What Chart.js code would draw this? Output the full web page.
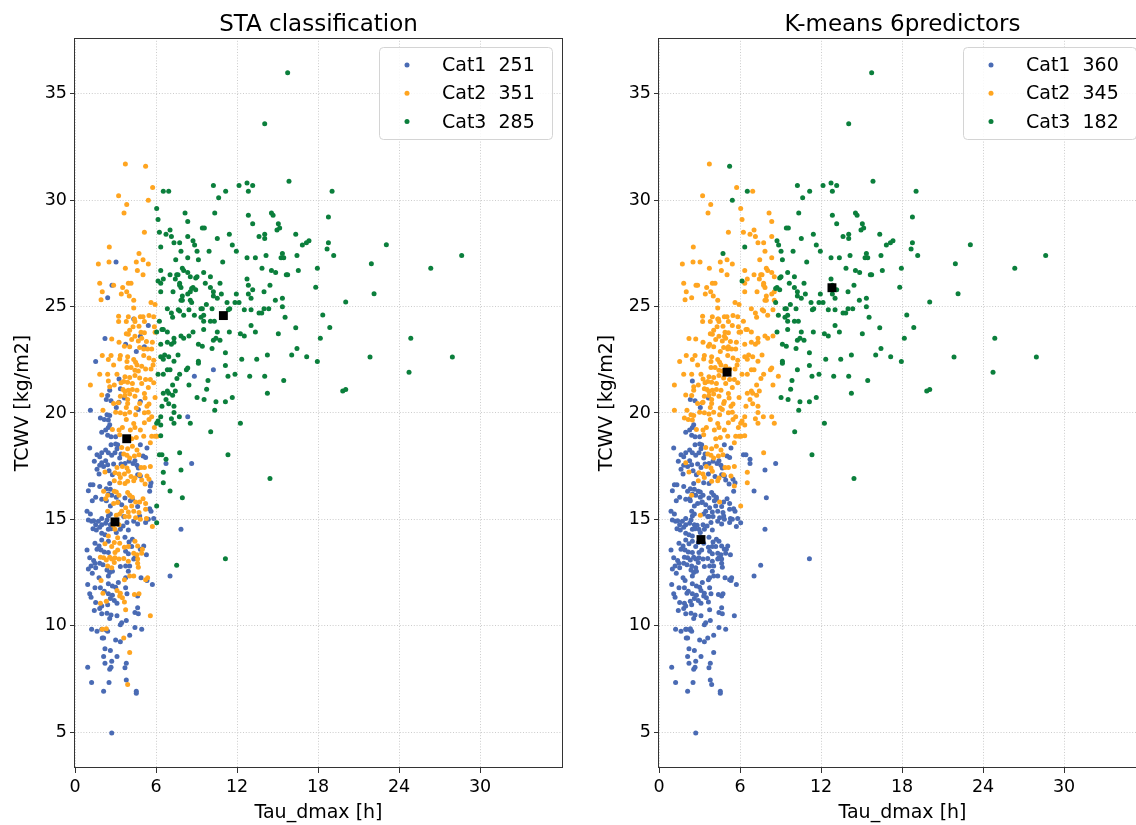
<!DOCTYPE html>
<html>
<head>
<meta charset="utf-8">
<script src="https://cdn.jsdelivr.net/npm/chart.js@4.4.1/dist/chart.umd.min.js"></script>
<style>
  html, body { margin: 0; padding: 0; background: #fff; overflow: hidden; }
  #wrap { position: relative; width: 1136px; height: 825px; overflow: hidden; background: #fff; }
  canvas { position: absolute; top: 0; }
</style>
</head>
<body>
<div id="wrap">
  <canvas id="sta" width="600" height="825" style="left:0px"></canvas>
  <canvas id="km" width="600" height="825" style="left:584px"></canvas>
</div>
<script>
// Events (Tau_dmax [h], TCWV [kg/m2]) grouped by STA class (s) and K-means class (k)
const s1k1 = [
  [2.32,20.64],[2.67,20.57],[3.66,20.70],[3.06,20.26],[2.57,19.45],[2.47,19.32],[2.27,19.20],[1.98,19.10],
  [2.42,18.95],[2.67,18.88],[3.01,18.88],[2.67,18.51],[3.01,18.54],[3.16,18.51],[3.11,18.32],[2.27,18.26],
  [1.98,18.13],[1.63,18.04],[1.83,17.94],[1.09,18.35],[2.47,18.13],[2.72,18.01],[2.96,18.13],[3.41,18.07],
  [3.31,17.88],[4.84,18.51],[5.33,18.35],[5.04,17.98],[5.23,17.91],
  [1.43,17.73],[2.27,17.76],[1.83,17.54],[2.12,17.48],[2.42,17.57],[2.86,17.60],[3.41,17.60],[3.70,17.63],
  [4.00,17.73],[4.44,17.76],[4.30,17.63],[4.59,17.54],[4.69,17.41],[1.63,17.35],[1.78,17.13],[2.52,17.29],
  [2.77,17.10],[4.64,17.10],[4.84,17.04],[5.63,16.72],[5.53,16.32],[1.14,16.63],[0.99,16.35],[1.33,16.63],
  [1.83,16.54],[2.57,16.69],[2.32,16.44],[2.62,16.41],[2.47,16.19],[2.72,16.13],[1.53,16.04],[1.28,15.88],
  [1.98,15.94],[3.06,16.04],[3.21,15.82],[3.46,15.69],[2.62,15.63],[2.32,15.88],[3.70,16.00],[4.10,15.88],
  [4.25,15.94],[4.64,15.60],[5.53,15.50],[5.63,15.38],[4.79,15.16],
  [0.89,15.38],[1.14,15.25],[0.99,14.97],[1.23,14.91],[1.38,14.94],[1.53,14.75],[1.73,14.91],[1.98,15.04],
  [1.98,14.75],[2.27,14.82],[2.47,15.16],[2.62,15.25],[2.37,14.97],[2.62,14.75],[3.61,15.13],[3.85,14.85],
  [4.35,14.91],[4.64,14.78],[5.43,15.00],[5.23,14.85],[5.83,15.04],[1.33,14.56],[1.58,14.50],[1.83,14.63],
  [1.98,14.35],[2.22,14.28],[2.47,14.53],[2.67,14.56],[3.06,14.38],[3.36,14.53],[3.56,14.69],[3.95,14.50],
  [0.89,13.56],[1.48,13.88],[1.78,13.75],[1.98,14.03],[2.47,13.97],[1.63,13.60],[1.93,13.56],[2.17,13.47],
  [2.47,13.44],[3.70,14.16],[4.00,13.94],[4.25,14.06],[3.75,13.50],[4.20,13.72],[3.95,13.38],[4.35,13.13],
  [4.44,13.19],[5.09,13.75],[4.84,13.60],[5.29,13.34],[1.09,13.19],[1.38,13.06],[1.19,12.81],[1.53,12.72],
  [1.83,12.94],[2.07,12.87],[2.37,12.62],[2.57,12.50],[2.47,12.34],[2.77,12.56],[3.36,12.78],[3.75,12.81],
  [3.95,12.56],[1.48,12.94],[0.99,12.66],[4.05,12.81],
  [3.75,12.25],[3.21,12.03],[3.01,11.81],[2.77,11.87],[2.47,11.97],[1.88,11.78],[2.17,11.62],[2.47,11.50],
  [2.77,11.43],[2.62,11.28],[2.42,10.99],[1.98,10.93],[2.91,11.18],[3.11,11.06],[1.09,11.50],[1.19,11.34],
  [0.94,11.94],[1.48,11.78],[1.53,11.09],[1.83,10.81],[1.98,10.56],[2.37,10.59],[2.67,10.50],[3.11,10.47],
  [2.57,10.34],[4.64,10.84],[4.44,10.62],[4.69,10.56],[5.73,11.94],[5.33,12.12],[4.89,12.25],[3.85,11.50],
  [3.75,11.78],[4.64,11.40],[1.78,12.25],[1.28,12.47],
  [1.43,10.71],[3.36,10.05],[3.46,10.14],[3.80,10.24],[4.44,9.92],[4.94,9.83],[1.23,9.83],[1.63,9.74],
  [1.98,9.83],[2.32,9.80],[2.42,9.74],[2.02,9.42],[2.12,9.42],[3.01,9.33],[3.36,9.24],[4.05,9.55],
  [2.22,8.92],[2.62,8.83],[2.12,8.55],[2.72,8.33],[3.11,8.55],[2.22,8.24],[3.80,8.24],[3.70,8.02],
  [2.57,7.95],[2.67,8.05],[0.94,8.05],[1.23,7.33],[2.52,7.33],[3.80,7.45],[2.12,6.92],[4.54,6.92],
  [4.54,6.83],[2.72,4.95],
  [6.74,17.63],[8.64,17.63],[7.85,14.53],[7.04,12.34]
];
const s1k2 = [
  [3.04,27.10],[2.74,26.00],[2.42,25.42],[4.35,24.42],[5.43,24.11],[2.22,23.50],[3.75,23.23],[4.84,23.61],
  [4.54,22.89],[5.14,23.11],[1.53,22.42],[3.26,21.60],[3.36,21.14],[2.57,21.07],[2.42,20.82],[3.26,20.51],
  [4.69,20.17],[4.84,20.54],[1.14,20.13],[1.88,19.76],[2.37,19.92],[2.57,19.88],[2.47,19.67],[2.17,19.70],
  [1.98,17.66],[5.58,16.57],[8.84,21.73],[8.35,19.82]
];
const s1k3 = [
  [10.25,22.03]
];
const s2k1 = [
  [2.47,21.51],
  [3.11,17.44],[3.66,17.13],[4.15,17.01],[4.94,16.85],[5.48,16.88],[5.19,16.66],[3.70,16.69],[3.31,16.72],
  [2.12,16.32],[2.91,16.32],[3.06,16.29],[3.26,16.13],[2.27,15.97],[2.86,15.75],[3.16,15.79],[3.90,16.26],
  [4.05,16.13],[4.25,16.04],[4.79,15.82],[5.04,15.97],[5.23,15.75],[4.20,15.63],[3.75,15.54],[3.46,15.38],
  [3.95,15.35],[4.35,15.38],[4.74,15.32],[5.23,15.47],[3.31,15.25],[3.70,15.13],[4.00,15.13],[4.49,15.07],
  [4.84,15.00],[5.29,15.04],[5.73,14.66],[2.42,15.38],
  [2.82,14.72],[2.96,14.53],[3.26,14.75],[2.47,14.22],[3.16,14.13],[2.91,13.91],[2.72,13.72],[2.22,13.85],
  [3.31,13.88],[2.96,13.44],[3.16,13.56],[3.66,13.69],[3.95,13.72],[4.44,13.97],[4.99,13.60],[4.64,13.75],
  [4.35,13.41],[4.59,13.34],[4.94,13.41],[2.57,13.22],[2.72,13.13],[2.32,13.09],[2.12,13.19],[2.91,12.97],
  [2.42,12.81],[2.72,12.72],[4.64,13.13],[4.64,12.94],[4.69,12.75],[3.95,13.03],[3.61,13.16],[1.88,13.22],
  [2.96,13.19],[3.26,13.13],
  [4.05,12.34],[4.35,12.34],[5.38,12.25],[5.23,12.16],[1.93,12.12],[3.66,12.16],[3.36,11.53],[3.11,11.65],
  [3.51,11.31],[3.31,11.40],[3.66,11.12],[4.40,11.47],[4.74,11.50],[1.88,11.06],[2.32,11.15],[5.58,10.47],
  [3.75,10.75],[2.07,11.53],
  [2.02,9.83],[2.32,9.86],[3.61,9.42],[4.05,8.74],[3.90,7.23]
];
const s2k2 = [
  [3.73,31.71],[5.75,30.60],[3.23,30.21],[3.83,29.80],[3.63,29.40],[5.14,28.50],[2.54,27.80],[1.73,27.00],
  [2.52,27.10],[4.54,27.10],[5.04,27.20],[5.43,27.00],[3.73,26.80],[4.62,26.70],[5.04,26.50],[1.83,26.10],
  [2.86,26.00],[3.53,25.90],[3.95,26.10],[4.15,26.10],[2.02,25.70],[3.83,25.70],[3.43,25.60],[4.02,25.50],
  [1.93,25.33],
  [4.35,25.30],[5.63,25.20],[5.93,25.10],[4.35,24.94],[3.23,24.55],[3.95,24.52],[4.40,24.42],[4.84,24.52],
  [5.04,24.52],[5.48,24.58],[5.83,24.52],[3.23,24.30],[3.80,24.30],[4.44,24.30],[5.14,24.30],[5.88,24.05],
  [4.74,24.08],[4.30,24.05],[4.05,23.89],[3.80,23.73],[3.95,23.70],[4.44,23.61],[4.89,23.80],[5.14,23.77],
  [5.93,23.80],[2.72,23.48],[3.26,23.33],[4.20,23.45],[4.69,23.39],[4.94,23.51],[5.29,23.36],[5.73,23.33],
  [3.66,23.14],[4.05,23.11],[4.79,23.08],[5.09,23.01],[5.38,23.01],[5.68,23.01],[2.02,22.70],[2.67,22.70],
  [2.47,22.51],[3.36,22.70],[3.31,22.54],[3.90,22.64],[3.85,22.42],[4.35,22.51],[4.49,22.39],[5.09,22.70],
  [5.48,22.58],[5.83,22.48],[5.78,22.26],[2.86,22.26],[3.85,22.14],[4.15,22.14],[4.59,22.26],[4.94,22.20],
  [5.23,22.07],[5.63,22.07],[4.44,22.01],[4.69,21.98],[1.83,21.82],[2.42,21.82],[3.11,21.82],[3.70,21.70],
  [4.05,21.67],[4.44,21.76],[4.79,21.64],[5.23,21.57],[5.58,21.57],[2.57,21.23],[2.91,21.32],[3.41,21.42],
  [3.61,21.48],[3.90,21.45],[4.25,21.39],[4.94,21.39],[5.43,21.20],[5.83,21.42],[1.14,21.32],[3.56,21.10],
  [3.70,21.01],[3.95,21.07],[4.25,21.10],[4.59,21.07],[5.14,20.92],[1.98,20.85],[3.36,20.79],[3.70,20.82],
  [4.05,20.89],[4.44,20.79],[5.19,20.70],[5.93,20.73],[3.90,20.64],[2.86,20.45],[3.21,20.48],[3.90,20.45],
  [4.79,20.45],[5.33,20.32],[5.48,20.42],[3.80,20.26],[4.54,20.23],[2.07,20.13],[3.01,20.04],[3.36,20.01],
  [3.70,19.95],[4.05,20.04],[4.49,19.92],[5.14,20.01],[5.43,20.04],[3.80,19.70],[4.35,19.51],[5.14,19.54],
  [5.68,19.82],[5.48,19.70],[2.77,19.23],[3.26,19.20],[3.51,19.32],[4.10,19.20],[4.44,19.32],[4.84,19.20],
  [5.88,19.32],[3.31,18.98],[4.20,18.79],[4.54,18.85],[5.09,18.91],[5.68,18.91],[5.93,18.91],[3.46,18.38],
  [3.90,18.32],[4.25,18.44],[4.59,18.26],[3.61,18.07],[3.85,18.01],[4.05,17.88],[4.40,17.98],[4.74,18.04],
  [5.58,18.60],[6.08,18.91],
  [3.51,17.48],[3.85,17.41],[4.89,17.44],[5.14,17.44],[5.58,17.48],[3.26,17.13],[3.95,17.26],[4.44,16.94],
  [4.79,17.10],[2.91,16.82],[3.36,16.97],[5.33,17.04],[3.90,16.79],[4.35,16.82],[2.96,17.19],[2.22,17.23],
  [2.42,16.13],[4.49,15.82],[3.06,15.19]
];
const s2k3 = [
  [5.23,31.60],[5.43,30.00],[4.74,27.50]
];
const s3k1 = [
  [6.25,18.04],[6.44,18.04],[6.74,17.82],[7.85,17.32],[7.04,16.33],[7.95,16.02],[6.05,14.84],[7.53,12.84],
  [11.14,13.15]
];
const s3k2 = [
  [6.94,30.42],[6.05,29.62],[6.15,29.10],[8.15,29.40],[8.35,29.00],[6.25,28.50],[6.74,28.40],[7.04,28.60],
  [7.14,28.30],[7.33,28.00],[7.75,28.00],[8.35,28.30],[7.85,27.60],[7.46,27.20],[8.35,27.30],[6.35,26.70],
  [7.04,26.50],[7.53,26.50],[7.63,26.50],[7.43,26.30],[7.95,26.80],[8.05,26.70],[8.35,26.60],[8.54,26.40],
  [6.35,26.10],[6.54,26.30],[7.75,26.10],[7.75,26.00],[6.35,25.70],[7.26,25.70],[7.85,25.90],[7.95,25.50],
  [8.35,25.60],[8.54,25.70],[7.85,25.30],[7.95,25.30],[8.54,25.30],[6.84,24.90],[7.14,24.70],[7.23,24.50],
  [7.65,24.85],[7.75,24.80],[8.05,24.60],[8.44,24.85],
  [6.25,24.31],[6.44,23.92],[6.54,23.92],[6.84,23.81],[6.05,23.81],[7.33,23.51],[7.85,23.62],[8.05,23.51],
  [8.44,23.62],[6.35,23.23],[6.84,23.33],[7.14,23.23],[7.33,23.33],[6.64,22.73],[6.35,22.64],[6.54,22.53],
  [6.94,22.64],[7.33,22.43],[7.63,22.73],[6.15,21.82],[6.54,21.82],[6.84,22.03],[7.04,22.03],[7.75,21.82],
  [8.25,22.03],[8.35,22.12],[7.55,21.62],[8.44,21.32],[7.23,21.32],[6.54,20.93],[6.84,21.03],[6.94,20.93],
  [7.23,20.84],[7.43,21.03],[6.74,20.63],[6.44,20.32],[6.94,20.43],[7.33,20.32],[7.33,20.02],[7.73,19.82],
  [7.14,19.73],[6.35,19.82],[6.15,19.62],[6.05,19.52],[6.35,19.43],[7.33,19.52],[8.54,19.52],[6.35,18.93],
  [7.75,18.13],[6.54,17.22],[6.54,16.72],[6.05,15.63]
];
const s3k3 = [
  [15.75,36.00],[14.05,33.60],[15.85,30.90],[6.54,30.42],[10.25,30.70],[11.16,30.42],[10.64,30.12],[12.15,30.70],
  [12.74,30.81],[13.16,30.70],[12.84,30.42],[10.35,29.40],[12.84,29.30],[13.16,28.90],[14.55,29.40],[14.67,29.30],
  [15.06,28.90],[15.16,28.70],[14.96,28.60],[16.35,28.40],[9.43,28.70],[9.58,28.70],[11.43,28.40],[10.54,28.20],
  [13.63,28.30],[14.05,28.40],[14.05,28.20],[6.35,27.80],[8.74,28.10],[8.86,27.90],[9.04,27.60],[9.93,27.60],
  [11.65,27.90],[11.95,27.60],[16.84,27.90],[17.14,28.00],[17.33,28.10],[9.14,27.20],[10.94,27.10],[12.74,27.30],
  [13.36,27.30],[14.15,27.40],[15.36,27.50],[15.26,27.30],[15.46,27.30],[16.44,27.40],[8.94,26.35],[9.04,26.40],
  [9.53,26.60],[10.03,26.40],[6.15,26.20],[9.65,26.10],[10.74,26.10],[12.74,26.30],[13.85,26.80],[14.55,26.70],
  [14.86,26.60],[15.65,26.50],[15.75,26.50],[16.54,26.70],[14.44,26.00],[8.74,25.90],[8.94,25.80],[8.64,25.85],
  [10.03,25.90],[10.25,25.70],[10.25,25.50],[10.54,25.40],[10.84,25.60],[12.84,26.00],[12.84,25.60],[13.16,25.80],
  [13.04,25.40],[14.00,25.70],[14.84,25.30],[15.36,25.40],[8.64,25.20],[11.26,25.20],[11.85,25.20],[12.15,25.20],
  [11.95,25.60],[8.84,24.60],[9.33,24.90],[9.43,24.90],[9.53,24.60],[9.33,24.50],[9.73,25.10],[10.15,24.90],
  [11.36,24.85],[11.46,24.90],[12.54,24.85],[13.04,24.85],[13.63,24.70],[13.83,24.70],[14.00,24.90],[14.35,24.90],
  [15.36,25.00],[15.56,24.50],
  [9.53,24.31],[10.03,24.31],[10.32,24.31],[13.04,24.11],[16.35,24.01],[8.74,23.81],[9.53,23.92],[10.25,23.42],
  [10.44,23.51],[10.54,23.81],[10.74,23.42],[11.43,23.81],[12.25,23.72],[12.54,23.62],[13.36,23.81],[15.06,23.72],
  [9.14,23.23],[9.43,23.14],[10.15,23.03],[11.14,22.83],[12.35,22.53],[13.46,22.53],[14.25,22.73],[16.05,22.73],
  [16.44,23.03],[17.16,22.64],[9.14,22.43],[9.14,22.34],[11.14,22.23],[11.33,21.73],[11.85,21.82],[12.94,21.73],
  [14.05,21.73],[15.46,21.53],[9.85,21.53],[9.04,20.73],[9.56,20.63],[9.75,21.12],[10.44,20.53],[11.14,20.53],
  [11.65,20.73],[14.25,20.93],[10.35,20.13],[12.25,19.52],[10.05,19.12],[11.33,18.04],[14.44,16.92],
  [19.04,30.42],[18.77,29.21],[18.77,28.00],[18.67,27.71],[19.16,27.41],[23.06,27.91],[28.64,27.41],[17.95,26.80],
  [21.95,27.02],[26.35,26.80],[17.83,25.91],[22.15,25.61],[20.05,25.22],[18.35,24.61],[18.87,24.02],[18.17,23.52],
  [24.87,23.52],[17.95,22.42],[21.85,22.63],[27.95,22.63],[24.74,21.92],[19.83,21.03],[20.05,21.11]
];

// Class centroids (black squares)
const staCentroids = [[2.96,14.88],[3.83,18.79],[10.99,24.58]];
const kmCentroids  = [[3.11,14.05],[5.04,21.92],[12.81,25.89]];

// Legend labels and class sizes
const catNames  = ['Cat1', 'Cat2', 'Cat3'];
const staCounts = [251, 351, 285];
const kmCounts  = [360, 345, 182];

const xTicks = [0, 6, 12, 18, 24, 30];
const yTicks = [5, 10, 15, 20, 25, 30, 35];
const catColors = ['#4a6bb4', '#ffa520', '#0b7f3c'];

Chart.defaults.font.family = "'DejaVu Sans', sans-serif";
Chart.defaults.color = '#000';

const FONT = "'DejaVu Sans', sans-serif";
const DOT = 2.5;

const framePlugin = {
  id: 'frame',
  afterDraw(chart) {
    const { ctx, chartArea: a } = chart;
    const o = chart.options.plugins.frame;
    ctx.save();
    // axes box
    ctx.strokeStyle = '#333';
    ctx.lineWidth = 1;
    ctx.strokeRect(Math.round(a.left) - 0.5, Math.round(a.top) + 0.5,
                   Math.round(a.right - a.left) + 1, Math.round(a.bottom - a.top) - 1);
    // title
    ctx.fillStyle = '#000';
    ctx.font = '23px ' + FONT;
    ctx.textAlign = 'center';
    ctx.textBaseline = 'alphabetic';
    ctx.fillText(o.title, (a.left + a.right) / 2, 31);
    // legend box
    const bw = 173, bh = 92;
    const bx = a.right - 10 - bw, by = a.top + 9;
    ctx.beginPath();
    ctx.roundRect(bx + 0.5, by + 0.5, bw, bh, 4);
    ctx.fillStyle = 'rgba(255,255,255,0.85)';
    ctx.fill();
    ctx.strokeStyle = '#d4d4d4';
    ctx.stroke();
    ctx.font = '19px ' + FONT;
    ctx.textAlign = 'left';
    ctx.textBaseline = 'middle';
    o.counts.forEach((n, i) => {
      const cy = by + 18 + i * 28.3;
      ctx.beginPath();
      ctx.arc(bx + 28, cy, DOT, 0, Math.PI * 2);
      ctx.fillStyle = catColors[i];
      ctx.fill();
      ctx.fillStyle = '#000';
      ctx.fillText(catNames[i] + '  ' + n, bx + 63, cy + 1);
    });
    ctx.restore();
  }
};

function toXY(list) { return list.map(p => ({ x: p[0], y: p[1] })); }

function buildChart(id, title, classes, centroids, counts) {
  const datasets = classes.map((pts, i) => ({
    label: catNames[i],
    data: toXY(pts),
    backgroundColor: catColors[i],
    borderWidth: 0,
    pointRadius: DOT,
    pointHoverRadius: DOT,
    order: 3 - i + 1
  }));
  datasets.push({
    label: 'centroids',
    data: toXY(centroids),
    backgroundColor: '#000',
    borderWidth: 0,
    pointStyle: 'rect',
    pointRadius: 6.3,
    order: 0
  });
  const tickFont = { size: 17.5, family: FONT };
  const titleFont = { size: 19, family: FONT };
  const grid = { color: '#cccccc', lineWidth: 1, drawTicks: true, tickLength: 5, tickColor: '#333', tickWidth: 1 };
  return new Chart(document.getElementById(id), {
    type: 'scatter',
    data: { datasets },
    options: {
      responsive: false,
      animation: false,
      events: [],
      layout: { padding: { top: 38, right: 38, left: 0, bottom: 0 } },
      plugins: {
        legend: { display: false },
        tooltip: { enabled: false },
        frame: { title, counts }
      },
      scales: {
        x: {
          type: 'linear', min: 0, max: 36.07,
          afterBuildTicks: s => { s.ticks = xTicks.map(v => ({ value: v })); },
          afterFit: s => { s.height = 57; },
          grid,
          border: { display: false, dash: [1, 1.8] },
          ticks: { font: tickFont, color: '#000', padding: 4, maxRotation: 0, autoSkip: false },
          title: { display: true, text: 'Tau_dmax [h]', font: titleFont, color: '#000', padding: { top: 0, bottom: 1 } }
        },
        y: {
          type: 'linear', min: 3.31, max: 37.63,
          afterBuildTicks: s => { s.ticks = yTicks.map(v => ({ value: v })); },
          afterFit: s => { s.width = 75; },
          grid,
          border: { display: false, dash: [1, 1.8] },
          ticks: { font: tickFont, color: '#000', padding: 3, autoSkip: false },
          title: { display: true, text: 'TCWV [kg/m2]', font: titleFont, color: '#000', padding: { top: 12, bottom: 0 } }
        }
      }
    },
    plugins: [framePlugin]
  });
}

const staClasses = [s1k1.concat(s1k2, s1k3), s2k1.concat(s2k2, s2k3), s3k1.concat(s3k2, s3k3)];
const kmClasses  = [s1k1.concat(s2k1, s3k1), s1k2.concat(s2k2, s3k2), s1k3.concat(s2k3, s3k3)];

buildChart('sta', 'STA classification', staClasses, staCentroids, staCounts);
buildChart('km', 'K-means 6predictors', kmClasses, kmCentroids, kmCounts);
</script>
</body>
</html>
